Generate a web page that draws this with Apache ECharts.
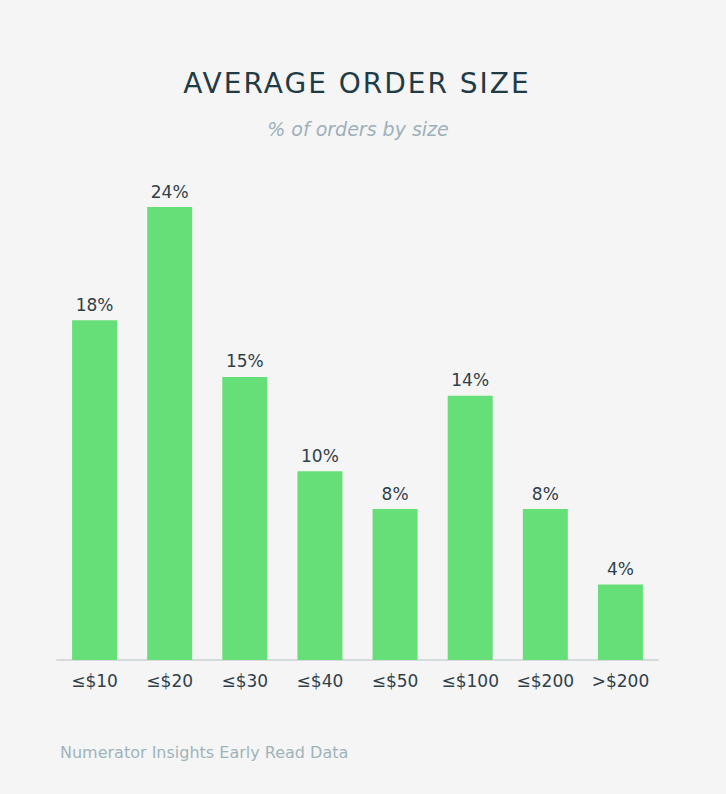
<!DOCTYPE html>
<html><head><meta charset="utf-8">
<script src="https://cdn.jsdelivr.net/npm/echarts@6/dist/echarts.min.js"></script>
<style>
html,body{margin:0;padding:0;background:#f5f5f5}#c{width:726px;height:794px}
#c text[style*="28px"]{letter-spacing:2px}
</style>
</head><body><div id="c"></div>
<script>
const categories = ['≤$10','≤$20','≤$30','≤$40','≤$50','≤$100','≤$200','>$200'];
const shares = [18, 24, 15, 10, 8, 14, 8, 4];
const titleText = 'AVERAGE ORDER SIZE';
const subtitleText = '% of orders by size';
const sourceText = 'Numerator Insights Early Read Data';

const FONT = 'DejaVu Sans';
const chart = echarts.init(document.getElementById('c'), null, {renderer:'svg'});
chart.setOption({
  backgroundColor: '#f5f5f5',
  animation: false,
  graphic: [
    {type: 'text', x: 357, y: 83, style: {text: titleText, align: 'center', verticalAlign: 'middle',
      font: 'normal 28px "DejaVu Sans"', fill: '#1f3b45'}},
    {type: 'text', x: 358, y: 129, style: {text: subtitleText, align: 'center', verticalAlign: 'middle',
      font: 'italic 19px "DejaVu Sans"', fill: '#9db0b8'}},
    {type: 'text', x: 60, y: 752, style: {text: sourceText, align: 'left', verticalAlign: 'middle',
      font: 'normal 16px "DejaVu Sans"', fill: '#9fb4ba'}}
  ],
  grid: {left: 57, right: 68, top: 207, bottom: 134, containLabel: false},
  xAxis: {
    type: 'category', data: categories,
    axisLine: {lineStyle: {color: '#d5dadd', width: 2}},
    axisTick: {show: false},
    axisLabel: {margin: 12, fontFamily: FONT, fontSize: 17, color: '#2f4049'}
  },
  yAxis: {type: 'value', min: 0, max: 24, show: false, splitLine: {show: false}},
  series: [{
    type: 'bar', data: shares, barWidth: 45,
    itemStyle: {color: '#67df78'},
    label: {show: true, position: 'top', distance: 7, formatter: '{c}%',
            fontFamily: FONT, fontSize: 17, color: '#2f4049'}
  }]
});
</script></body></html>
